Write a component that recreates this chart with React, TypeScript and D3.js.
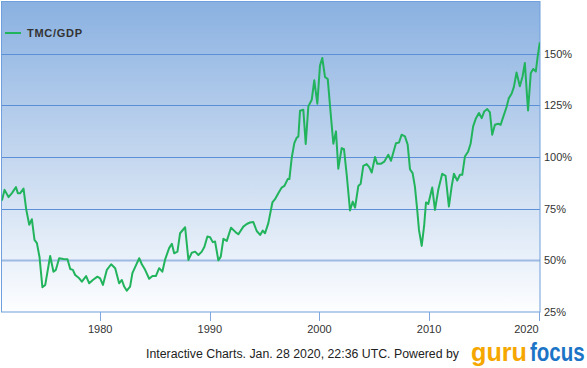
import React from "react";
import * as d3 from "d3";

const years: number[] = [
  1971.04, 1971.28, 1971.64, 1971.95, 1972.32, 1972.49, 1972.71, 1973.01, 1973.25, 1973.53,
  1973.77, 1974.01, 1974.23, 1974.47, 1974.73, 1974.99, 1975.44, 1975.74, 1975.96, 1976.26,
  1976.65, 1977.02, 1977.27, 1977.51, 1977.72, 1978.09, 1978.33, 1978.72, 1979.0, 1979.33,
  1979.75, 1980.0, 1980.25, 1980.61, 1981.0, 1981.37, 1981.73, 1981.98, 1982.19, 1982.43,
  1982.73, 1982.94, 1983.19, 1983.56, 1983.8, 1984.1, 1984.47, 1984.77, 1985.08, 1985.38,
  1985.67, 1985.93, 1986.29, 1986.54, 1986.75, 1987.05, 1987.29, 1987.75, 1988.05, 1988.36,
  1988.66, 1988.96, 1989.27, 1989.51, 1989.78, 1990.03, 1990.27, 1990.48, 1990.78, 1991.0,
  1991.24, 1991.55, 1991.94, 1992.4, 1992.61, 1993.06, 1993.37, 1993.67, 1993.97, 1994.28,
  1994.59, 1994.83, 1995.04, 1995.34, 1995.71, 1995.95, 1996.25, 1996.56, 1996.8, 1997.11,
  1997.26, 1997.47, 1997.71, 1997.93, 1998.08, 1998.23, 1998.53, 1998.75, 1998.99, 1999.3,
  1999.53, 1999.81, 2000.05, 2000.26, 2000.51, 2000.76, 2001.02, 2001.27, 2001.51, 2001.72,
  2002.03, 2002.24, 2002.49, 2002.79, 2003.04, 2003.25, 2003.55, 2003.76, 2004.0, 2004.31,
  2004.54, 2004.77, 2005.07, 2005.28, 2005.59, 2005.92, 2006.28, 2006.53, 2006.98, 2007.26,
  2007.5, 2007.8, 2008.05, 2008.26, 2008.5, 2008.71, 2008.92, 2009.08, 2009.33, 2009.56,
  2009.72, 2009.93, 2010.29, 2010.54, 2010.84, 2011.2, 2011.51, 2011.81, 2012.06, 2012.27,
  2012.57, 2012.82, 2013.03, 2013.27, 2013.57, 2013.79, 2014.02, 2014.28, 2014.55, 2014.8,
  2015.03, 2015.31, 2015.55, 2015.76, 2016.01, 2016.31, 2016.53, 2016.76, 2017.07, 2017.28,
  2017.53, 2017.74, 2017.98, 2018.28, 2018.53, 2018.74, 2018.94, 2019.03, 2019.28, 2019.5,
  2019.74, 2019.89, 2020.1,
];

const tmcGdp: number[] = [
  78.9, 84.1, 80.6, 82.5, 85.4, 82.5, 82.5, 84.7, 74.8, 67.2,
  69.9, 59.9, 58.3, 51.5, 37.0, 38.1, 52.1, 44.5, 45.4, 51.0,
  50.7, 50.5, 45.8, 45.4, 42.9, 41.3, 39.7, 42.4, 38.9, 40.5,
  42.1, 41.3, 38.1, 45.4, 48.1, 46.2, 38.9, 40.5, 37.3, 35.3,
  37.3, 43.8, 46.7, 51.0, 48.1, 45.4, 41.1, 42.4, 42.4, 46.2,
  44.5, 50.5, 55.9, 58.0, 53.4, 54.2, 63.1, 66.0, 50.2, 53.7,
  54.2, 52.6, 54.2, 56.6, 61.5, 61.2, 58.8, 59.1, 50.0, 51.8,
  60.4, 59.4, 65.8, 63.4, 62.6, 66.3, 67.6, 68.3, 68.5, 64.2,
  62.3, 64.4, 63.1, 68.0, 78.0, 79.6, 82.5, 85.2, 86.0, 89.3,
  89.3, 99.5, 106.7, 109.4, 109.9, 122.4, 122.9, 106.3, 124.5, 127.7,
  137.1, 125.8, 144.2, 147.9, 138.7, 137.7, 121.5, 106.4, 112.4, 94.3,
  104.3, 103.8, 91.4, 74.1, 78.4, 75.5, 86.0, 87.0, 95.7, 96.6,
  95.1, 92.5, 100.0, 96.7, 96.7, 97.8, 101.1, 98.2, 106.7, 107.0,
  110.8, 110.0, 106.0, 94.1, 92.2, 85.7, 74.4, 64.7, 57.0, 67.2,
  78.0, 77.3, 85.2, 74.4, 84.1, 91.9, 90.9, 76.0, 85.7, 91.9,
  88.6, 91.4, 91.4, 100.2, 102.7, 106.4, 114.8, 118.8, 121.3, 118.8,
  122.0, 123.2, 121.6, 110.8, 115.6, 116.1, 115.6, 119.3, 124.2, 128.5,
  130.6, 133.9, 140.9, 134.2, 139.0, 145.5, 129.3, 122.5, 140.6, 142.6,
  141.4, 147.9, 155.5,
];

const yTicks: number[] = [25, 50, 75, 100, 125, 150];
const xTicks: number[] = [1980, 1990, 2000, 2010, 2020];
const seriesName = "TMC/GDP";
const footerText = "Interactive Charts. Jan. 28 2020, 22:36 UTC. Powered by";

export default function App() {
  const W = 587;
  const H = 368;
  const left = 1.5;
  const right = 540;
  const top = 2;
  const bottom = 312;

  const x = d3.scaleLinear().domain([1971.0, 2020.12]).range([left, right]);
  const y = d3.scaleLinear().domain([25, 175]).range([bottom, top]);

  const pts = years.map((yr, i) => [yr, tmcGdp[i]] as [number, number]);
  const line = d3
    .line<[number, number]>()
    .x((d) => x(d[0]))
    .y((d) => y(d[1]));

  const green = "#22b45c";
  const grid = "#5b8fd8";

  return (
    <svg
      width={W}
      height={H}
      style={{ position: "absolute", left: 0, top: 0, fontFamily: "'Liberation Sans', Arial, sans-serif" }}
    >
      <defs>
        <linearGradient id="bg" x1="0" y1="0" x2="0" y2="1">
          <stop offset="0%" stopColor="#8ab1e1" />
          <stop offset="50%" stopColor="#c4d7ef" />
          <stop offset="100%" stopColor="#fdfeff" />
        </linearGradient>
        <clipPath id="plotclip">
          <rect x={left} y={top} width={right - left} height={bottom - top} />
        </clipPath>
      </defs>
      <rect x={0} y={0} width={W} height={H} fill="#ffffff" />
      <rect x={left} y={top} width={right - left} height={bottom - top} fill="url(#bg)" />

      {yTicks.map((t) =>
        t === 25 ? null : (
          <line
            key={t}
            x1={left}
            x2={right}
            y1={Math.round(y(t)) + 0.5}
            y2={Math.round(y(t)) + 0.5}
            stroke={t === 50 ? "#9dbbe2" : grid}
            strokeWidth={t === 50 ? 2 : 1}
          />
        )
      )}

      <rect
        x={left}
        y={top - 0.5}
        width={right - left}
        height={bottom - top + 0.5}
        fill="none"
        stroke="#6f9fdc"
        strokeWidth={1}
      />

      {xTicks.map((t, i) => {
        const last = i === xTicks.length - 1;
        return (
          <g key={t}>
            <line
              x1={Math.round(x(t)) + 0.5}
              x2={Math.round(x(t)) + 0.5}
              y1={bottom}
              y2={bottom + 9}
              stroke="#7fa8e0"
              strokeWidth={1}
            />
            <text x={x(t)} y={333} textAnchor={last ? "end" : "middle"} fontSize={11} fill="#333">
              {t}
            </text>
          </g>
        );
      })}

      {yTicks.map((t) => (
        <text key={t} x={544} y={y(t) + 4} fontSize={11} fill="#333">
          {t}%
        </text>
      ))}

      <g clipPath="url(#plotclip)">
        <path d={line(pts) || ""} fill="none" stroke={green} strokeWidth={2} strokeLinejoin="round" />
      </g>

      <line x1={5} x2={21} y1={33} y2={33} stroke={green} strokeWidth={2} />
      <text x={27} y={37} fontSize={11} fontWeight="bold" fill="#333" textLength={55} lengthAdjust="spacing">
        {seriesName}
      </text>

      <text x={146} y={358} fontSize={12} fill="#222" textLength={313} lengthAdjust="spacingAndGlyphs">
        {footerText}
      </text>
      <g transform="translate(471,361) scale(0.97,1)">
        <text x={0} y={0} fontSize={26} fontWeight="bold" fill="#f5a700">
          guru
        </text>
      </g>
      <g transform="translate(530,361) scale(0.79,1)">
        <text x={0} y={0} fontSize={26} fontWeight="bold" fill="#1b74c6">
          focus
        </text>
      </g>
    </svg>
  );
}
